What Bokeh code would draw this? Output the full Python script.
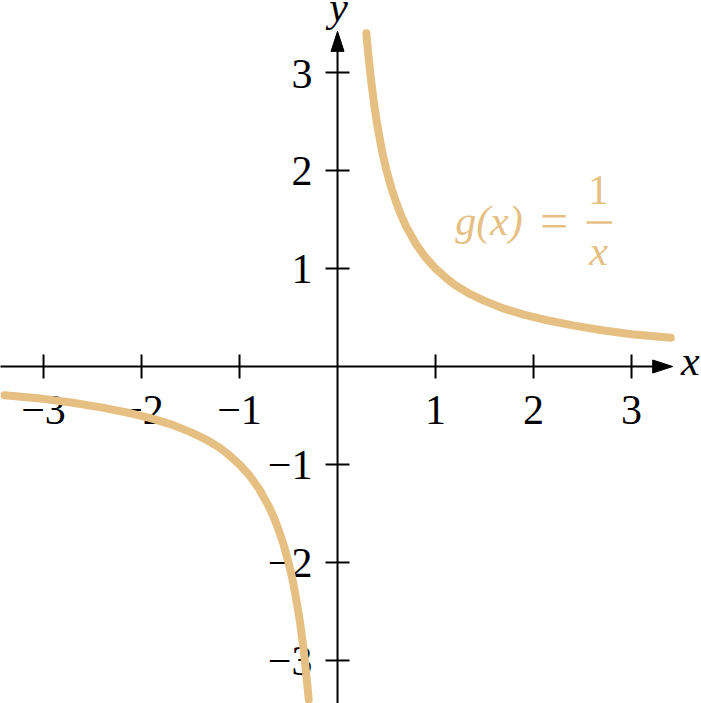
from bokeh.core.properties import value
from bokeh.embed import file_html
from bokeh.plotting import figure
from bokeh.resources import INLINE

right_x = [0.294, 0.30, 0.32, 0.34, 0.36, 0.38, 0.40, 0.43, 0.46, 0.50, 0.55, 0.60, 0.65, 0.70,
           0.80, 0.90, 1.00, 1.10, 1.20, 1.35, 1.50, 1.70, 1.90, 2.10, 2.40, 2.70, 3.00, 3.40]
right_y = [3.40, 3.33, 3.13, 2.94, 2.78, 2.63, 2.50, 2.33, 2.17, 2.00, 1.82, 1.67, 1.54, 1.43,
           1.25, 1.11, 1.00, 0.91, 0.83, 0.74, 0.67, 0.59, 0.53, 0.48, 0.42, 0.37, 0.33, 0.294]
left_x = [-3.40, -3.00, -2.70, -2.40, -2.10, -1.90, -1.70, -1.50, -1.35, -1.20, -1.10, -1.00, -0.90,
          -0.80, -0.70, -0.65, -0.60, -0.55, -0.50, -0.46, -0.43, -0.40, -0.38, -0.36, -0.34, -0.32, -0.30, -0.294]
left_y = [-0.294, -0.33, -0.37, -0.42, -0.48, -0.53, -0.59, -0.67, -0.74, -0.83, -0.91, -1.00, -1.11,
          -1.25, -1.43, -1.54, -1.67, -1.82, -2.00, -2.17, -2.33, -2.50, -2.63, -2.78, -2.94, -3.13, -3.33, -3.40]

tick_vals = [-3, -2, -1, 1, 2, 3]
tick_labels = ["\u22123", "\u22122", "\u22121", "1", "2", "3"]

CURVE = "#E6BF83"
FONT = "Liberation Serif"
px = 1 / 98.0  # one screen pixel in data units

p = figure(width=701, height=703, x_range=(-3.439, 3.714), y_range=(-3.439, 3.735),
           x_axis_location=None, y_axis_location=None, toolbar_location=None,
           output_backend="svg", min_border=0)
p.grid.grid_line_color = None
p.outline_line_color = None
p.background_fill_color = "white"

# axes
p.segment(x0=[-3.5, 0], y0=[0, -3.5], x1=[3.3, 0], y1=[0, 3.3], line_color="black", line_width=2)
tip = 3.42
p.patches(xs=[[tip, tip - 20 * px, tip - 20 * px], [-6.5 * px, 6.5 * px, 0]],
          ys=[[0, 6.5 * px, -6.5 * px], [tip - 20 * px, tip - 20 * px, tip]],
          fill_color="black", line_color="black")

# ticks
p.segment(x0=tick_vals, y0=[-12 * px] * 6, x1=tick_vals, y1=[12 * px] * 6,
          line_color="black", line_width=2)
p.segment(x0=[-12 * px] * 6, y0=tick_vals, x1=[12 * px] * 6, y1=tick_vals,
          line_color="black", line_width=2)

p.text(x=tick_vals, y=[-0.447] * 6, text=tick_labels, text_align="center",
       text_baseline="alphabetic", text_font=value(FONT), text_font_size=value("42px"),
       text_color="black")
p.text(x=[-0.255] * 6, y=[t - 0.01 for t in tick_vals], text=tick_labels, text_align="right",
       text_baseline="alphabetic", text_font=value(FONT), text_font_size=value("42px"),
       text_color="black")

p.text(x=[3.60], y=[0.06], text=["x"], text_align="center", text_baseline="alphabetic",
       text_font=value(FONT), text_font_style="italic", text_font_size=value("42px"))
p.text(x=[0.01], y=[3.67], text=["y"], text_align="center", text_baseline="alphabetic",
       text_font=value(FONT), text_font_style="italic", text_font_size=value("42px"))

# curve
p.line(right_x, right_y, line_color=CURVE, line_width=8, line_cap="round", line_join="round")
p.line(left_x, left_y, line_color=CURVE, line_width=8, line_cap="round", line_join="round")

# function label
p.text(x=[1.89], y=[1.48], text=["g(x)"], text_align="right", text_baseline="middle",
       text_font=value(FONT), text_font_style="italic", text_font_size=value("42px"),
       text_color=CURVE)
p.text(x=[2.21], y=[1.48], text=["="], text_align="center", text_baseline="middle",
       text_font=value(FONT), text_font_size=value("50px"), text_color=CURVE)
p.text(x=[2.663], y=[1.80], text=["1"], text_align="center", text_baseline="middle",
       text_font=value(FONT), text_font_size=value("42px"), text_color=CURVE)
p.segment(x0=[2.54], y0=[1.47], x1=[2.80], y1=[1.47], line_color=CURVE, line_width=2.5)
p.text(x=[2.663], y=[1.18], text=["x"], text_align="center", text_baseline="middle",
       text_font=value(FONT), text_font_style="italic", text_font_size=value("42px"),
       text_color=CURVE)

open("out.html", "w").write(file_html(p, INLINE))
